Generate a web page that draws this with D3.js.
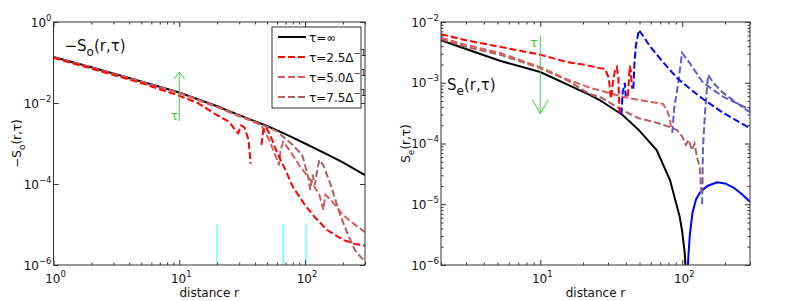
<!DOCTYPE html>
<html>
<head>
<meta charset="utf-8">
<script src="https://cdn.jsdelivr.net/npm/d3@7"></script>
<style>
  body { margin: 0; background: #fff; }
  svg text { font-family: "DejaVu Sans", sans-serif; fill: #111; }
</style>
</head>
<body>
<div id="chart"></div>
<script>

// ---- data: [r, value] pairs, null = gap where the sign flips ----

// left panel, -S_o(r,tau)
const soInf = [[1,0.137],[2,0.076],[5,0.034],[10,0.0182],[20,8.3e-3],[30,5.0e-3],[50,2.7e-3],[70,1.7e-3],[100,1.0e-3],[150,5.4e-4],[200,3.4e-4],[300,1.66e-4]];
const so25 = [[1,0.13],[2,0.071],[5,0.031],[10,0.0151],[14,0.010],[20,5.0e-3],[25,3.4e-3],[28,2.1e-3],[29.5,1.8e-3],[31,2.8e-3],[33,2.5e-3],[35.5,1.26e-3],[37,3.2e-4],
  null,[45,9.2e-4],[46.5,2.1e-3],[49,2.6e-3],[55,1.2e-3],[60,5.9e-4],[70,2.2e-4],[80,8.5e-5],[100,3.0e-5],[120,1.5e-5],[150,7.3e-6],[200,4.2e-6],[250,3.3e-6],[300,3.0e-6]];
const so50 = [[1,0.134],[2,0.074],[5,0.033],[10,0.0176],[20,7.9e-3],[30,4.7e-3],[40,3.3e-3],[45,2.8e-3],[52,1.2e-3],[58,5.2e-4],[62,2.9e-4],[64,7.0e-4],[67,1.1e-3],[75,7.0e-4],
  [90,2.9e-4],[110,1.27e-4],[130,5.4e-5],[140,2.3e-5],[145,5.4e-5],[160,4.1e-5],[200,1.75e-5],[250,9.8e-6],[300,6.5e-6]];
const so75 = [[1,0.136],[2,0.075],[5,0.0335],[10,0.018],[20,8.1e-3],[30,4.9e-3],[50,2.6e-3],[60,2.0e-3],[65,1.6e-3],[80,9.2e-4],[95,5.2e-4],[105,1.7e-4],[110,7.2e-5],
  [115,1.7e-4],[120,9.5e-5],[125,2.2e-4],[130,3.9e-4],[140,2.9e-4],[160,9.5e-5],[190,1.75e-5],[220,5.5e-6],[250,2.3e-6],[300,1.2e-6]];
const cyanR = [20, 67, 102];
const cyanRange = [1e-6, 1e-5];

// right panel, S_e(r,tau): positive part and |negative part|
const seInf = [[2,5.0e-3],[3,3.6e-3],[5.2,2.3e-3],[10,1.5e-3],[17,8.5e-4],[22.3,6.3e-4],[26.2,5.2e-4],[38,2.95e-4],[49.5,1.66e-4],[66,7.8e-5],[82,2.5e-5],
  [96,6.2e-6],[100,3.5e-6],[104,1.6e-6],[106,8e-7],[107.5,2.5e-7]];
const seInfNeg = [[108.5,2.5e-7],[110,1.2e-6],[113,3.1e-6],[118,7.2e-6],[125,1.2e-5],[133,1.55e-5],[150,2.0e-5],[176,2.3e-5],[200,2.2e-5],[228,1.9e-5],[260,1.5e-5],[300,1.1e-5]];
const se25 = [[2,6.3e-3],[3,5.0e-3],[5.2,3.9e-3],[10,2.9e-3],[15.3,2.2e-3],[21.2,1.95e-3],[26.2,1.74e-3],[28.5,1.7e-3],[30.4,1.2e-3],[31.4,5.5e-4],[32.3,9e-4],
  [33.5,1.55e-3],[34.6,1.8e-3],[35.5,1.2e-3],[36.2,3e-4],null,[41.4,6e-4],[42.7,1.9e-3],[43.4,1.6e-3],[44.3,8e-4]];
const se25Neg = [[37.2,3e-4],[38.1,7e-4],[39.4,1.0e-3],[40.0,6e-4],null,[45.3,8e-4],[46,2e-3],[47.1,4.0e-3],[49.5,7.4e-3],[52.8,6.0e-3],[59.1,4.0e-3],[73.1,2.2e-3],
  [91.8,1.2e-3],[113,8.0e-4],[140,5.4e-4],[194,3.2e-4],[286,1.9e-4],[300,1.8e-4]];
const se50 = [[2,5.5e-3],[3,4.2e-3],[5.2,3.1e-3],[10,1.8e-3],[15.3,1.15e-3],[22.3,8.3e-4],[30.4,6.8e-4],[38.1,5.9e-4],[49.5,5.2e-4],[73.1,4.5e-4],[78,3.5e-4],
  [81.9,2.6e-4],[83.5,1.7e-4]];
const se50Neg = [[85,1.5e-4],[88,4e-4],[93.3,9.1e-4],[99.6,3.1e-3],[113,2.1e-3],[140,1.0e-3],[194,5.9e-4],[286,3.8e-4],[300,3.7e-4]];
const se75 = [[2,5.2e-3],[3,3.9e-3],[5.2,2.9e-3],[10,1.74e-3],[15.3,1.12e-3],[22.3,6.5e-4],[26.2,5.9e-4],[38.1,3.5e-4],[49.5,2.6e-4],[66.2,2.2e-4],[81.9,1.86e-4],
  [91.8,1.66e-4],[100,1.3e-4],[106,9.5e-5],[111,1.15e-4],[117,7.8e-5],[122,1.0e-4],[128,5.5e-5],[133,4.1e-5],[136,1.5e-5]];
const se75Neg = [[138,1e-5],[140,8.7e-5],[145,3.5e-4],[152,1.35e-3],[165,1.0e-3],[194,6.8e-4],[286,3.5e-4],[300,3.3e-4]];

const legendLabels = [["\u03c4=\u221e", null], ["\u03c4=2.5\u0394", "\u22121"], ["\u03c4=5.0\u0394", "\u22121"], ["\u03c4=7.5\u0394", "\u22121"]];

// ---- drawing ----

const colInf = "#000000", col25 = "#ff0000", col50 = "#d65c5c", col75 = "#b06060";
const colInfN = "#0000ff", col25N = "#0000ff", col50N = "#5c5cd6", col75N = "#6060b0";
const axisCol = "#333";
const green = "#44c444";

const svg = d3.select("#chart").append("svg")
    .attr("width", 789)
    .attr("height", 301);

function minorsFor(domain) {
    let out = [];
    for (let e = Math.floor(Math.log10(domain[0])); e <= Math.ceil(Math.log10(domain[1])); e++) {
        for (let k = 2; k <= 9; k++) {
            let v = k * Math.pow(10, e);
            if (v >= domain[0] * 0.999 && v <= domain[1] * 1.001) out.push(v);
        }
    }
    return out;
}

function powText(sel, v) {
    let e = Math.round(Math.log10(v));
    sel.append("tspan").text("10");
    sel.append("tspan").attr("dy", -6).attr("font-size", 8.5).text(e < 0 ? "\u2212" + (-e) : String(e));
}

function makePanel(p) {
    let g = svg.append("g").attr("transform", `translate(${p.left},${p.top})`);
    let x = d3.scaleLog().domain(p.xDomain).range([0, p.width]);
    let y = d3.scaleLog().domain(p.yDomain).range([p.height, 0]);

    g.append("clipPath").attr("id", "clip-" + p.id)
        .append("rect").attr("width", p.width).attr("height", p.height);
    let plot = g.append("g").attr("clip-path", `url(#clip-${p.id})`);

    let line = d3.line()
        .defined(d => d !== null)
        .x(d => x(d[0]))
        .y(d => y(d[1]));

    p.series.forEach(s => {
        plot.append("path")
            .datum(s.data)
            .attr("d", line)
            .attr("fill", "none")
            .attr("stroke", s.color)
            .attr("stroke-width", 2)
            .attr("stroke-dasharray", s.dash ? "7,3" : null);
    });

    // ticks on all four sides, pointing in
    let addAxis = (axis, tf) => {
        g.append("g").attr("transform", tf).attr("color", axisCol).call(axis)
            .call(a => a.select(".domain").remove());
    };
    let xMinor = minorsFor(p.xDomain);
    addAxis(d3.axisBottom(x).tickValues(p.xMajor).tickSizeInner(-5).tickSizeOuter(0).tickFormat(""), `translate(0,${p.height})`);
    addAxis(d3.axisBottom(x).tickValues(xMinor).tickSizeInner(-2.5).tickSizeOuter(0).tickFormat(""), `translate(0,${p.height})`);
    addAxis(d3.axisTop(x).tickValues(p.xMajor).tickSizeInner(-5).tickSizeOuter(0).tickFormat(""), "translate(0,0)");
    addAxis(d3.axisTop(x).tickValues(xMinor).tickSizeInner(-2.5).tickSizeOuter(0).tickFormat(""), "translate(0,0)");
    addAxis(d3.axisLeft(y).tickValues(p.yMajor).tickSizeInner(-5).tickSizeOuter(0).tickFormat(""), "translate(0,0)");
    addAxis(d3.axisRight(y).tickValues(p.yMajor).tickSizeInner(-5).tickSizeOuter(0).tickFormat(""), `translate(${p.width},0)`);
    if (p.yMinor) {
        let yMinor = minorsFor(p.yDomain);
        addAxis(d3.axisLeft(y).tickValues(yMinor).tickSizeInner(-2.5).tickSizeOuter(0).tickFormat(""), "translate(0,0)");
        addAxis(d3.axisRight(y).tickValues(yMinor).tickSizeInner(-2.5).tickSizeOuter(0).tickFormat(""), `translate(${p.width},0)`);
    }

    g.append("rect")
        .attr("width", p.width)
        .attr("height", p.height)
        .attr("fill", "none")
        .attr("stroke", axisCol)
        .attr("stroke-width", 1);

    // tick labels
    p.xLabels.forEach(v => {
        g.append("text")
            .attr("x", x(v) + 2)
            .attr("y", p.height + 18)
            .attr("text-anchor", "middle")
            .attr("font-size", 12)
            .call(t => powText(t, v));
    });
    p.yMajor.forEach(v => {
        g.append("text")
            .attr("x", -2)
            .attr("y", y(v) + 4.5)
            .attr("text-anchor", "end")
            .attr("font-size", 12)
            .call(t => powText(t, v));
    });

    g.append("text")
        .attr("x", p.width / 2)
        .attr("y", p.height + 32)
        .attr("text-anchor", "middle")
        .attr("font-size", 12)
        .text("distance r");

    // rotated y label
    let yl = g.append("text")
        .attr("transform", `translate(${p.yLabelX},${p.height / 2}) rotate(-90)`)
        .attr("text-anchor", "middle")
        .attr("font-size", 12);
    yl.append("tspan").text(p.yLabel[0]);
    yl.append("tspan").attr("dy", 4).attr("font-size", 9).text(p.yLabel[1]);
    yl.append("tspan").attr("dy", -4).text(p.yLabel[2]);

    // big label inside the axes
    let bl = g.append("text")
        .attr("x", p.bigLabelPos[0])
        .attr("y", p.bigLabelPos[1])
        .attr("font-size", 15);
    bl.append("tspan").text(p.yLabel[0]);
    bl.append("tspan").attr("dy", 5).attr("font-size", 12).text(p.yLabel[1]);
    bl.append("tspan").attr("dy", -5).text(p.yLabel[2]);

    return {g: g, x: x, y: y, plot: plot};
}

function arrow(panel, r, from, to, head) {
    let x0 = panel.x(r), y0 = panel.y(from), y1 = panel.y(to);
    let dir = y1 < y0 ? 1 : -1;
    panel.g.append("path")
        .attr("d", `M${x0},${y0}L${x0},${y1}M${x0 - head[0]},${y1 + dir * head[1]}L${x0},${y1}L${x0 + head[0]},${y1 + dir * head[1]}`)
        .attr("fill", "none")
        .attr("stroke", green)
        .attr("stroke-width", 1);
}

// left panel
let left = makePanel({
    id: "so", left: 53.5, top: 22, width: 311.5, height: 243,
    xDomain: [1, 300], yDomain: [1e-6, 1],
    xMajor: [1, 10, 100], xLabels: [1, 10, 100],
    yMajor: [1e-6, 1e-4, 1e-2, 1], yMinor: false,
    yLabel: ["\u2212S", "o", "(r,\u03c4)"], yLabelX: -33, bigLabelPos: [11, 29],
    series: [
        {data: soInf, color: colInf, dash: false},
        {data: so75, color: col75, dash: true},
        {data: so50, color: col50, dash: true},
        {data: so25, color: col25, dash: true}
    ]
});

cyanR.forEach(r => {
    left.plot.append("line")
        .attr("x1", left.x(r)).attr("x2", left.x(r))
        .attr("y1", left.y(cyanRange[0])).attr("y2", left.y(cyanRange[1]))
        .attr("stroke", "#66ffff")
        .attr("stroke-width", 1.5);
});

arrow(left, 10, 3.6e-3, 0.058, [5.5, 7]);
left.g.append("text").attr("x", 117).attr("y", 98).attr("font-size", 13)
    .style("fill", green).text("\u03c4");

// legend
let lg = left.g.append("g").attr("transform", "translate(218.5,5)");
lg.append("rect").attr("width", 89).attr("height", 81)
    .attr("fill", "#fff").attr("stroke", axisCol).attr("stroke-width", 1);
let legCols = [colInf, col25, col50, col75];
legendLabels.forEach((lab, i) => {
    let yy = 10 + i * 20;
    lg.append("line").attr("x1", 6).attr("x2", 34).attr("y1", yy).attr("y2", yy)
        .attr("stroke", legCols[i]).attr("stroke-width", 2)
        .attr("stroke-dasharray", i === 0 ? null : "7,3");
    let t = lg.append("text").attr("x", 37).attr("y", yy + 4.5).attr("font-size", 12);
    t.append("tspan").text(lab[0]);
    if (lab[1]) t.append("tspan").attr("dy", -6).attr("font-size", 8.5).text(lab[1]);
});

// right panel
let right = makePanel({
    id: "se", left: 441, top: 22, width: 309, height: 243,
    xDomain: [2, 300], yDomain: [1e-6, 1e-2],
    xMajor: [10, 100], xLabels: [10, 100],
    yMajor: [1e-6, 1e-5, 1e-4, 1e-3, 1e-2], yMinor: true,
    yLabel: ["S", "e", "(r,\u03c4)"], yLabelX: -31, bigLabelPos: [6, 68],
    series: [
        {data: seInf, color: colInf, dash: false},
        {data: seInfNeg, color: colInfN, dash: false},
        {data: se75, color: col75, dash: true},
        {data: se75Neg, color: col75N, dash: true},
        {data: se50, color: col50, dash: true},
        {data: se50Neg, color: col50N, dash: true},
        {data: se25, color: col25, dash: true},
        {data: se25Neg, color: col25N, dash: true}
    ]
});

arrow(right, 10, 5.9e-3, 3.1e-4, [8, 14]);
right.g.append("text").attr("x", 89).attr("y", 25).attr("font-size", 13)
    .style("fill", green).text("\u03c4");

</script>
</body>
</html>
